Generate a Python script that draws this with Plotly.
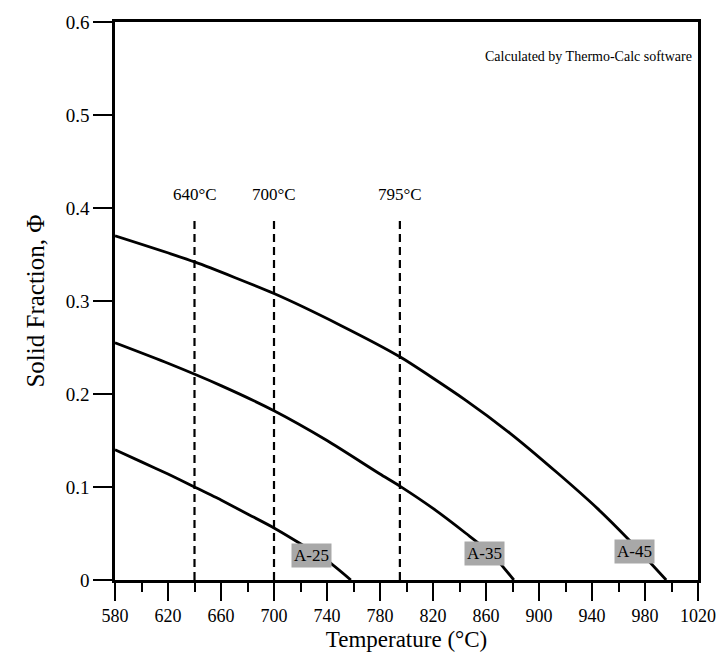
import plotly.graph_objects as go

# ---- data ----
T_A25 = [580, 600, 620, 640, 660, 680, 700, 720, 740, 758]
PHI_A25 = [0.140, 0.127, 0.114, 0.100, 0.086, 0.071, 0.056, 0.039, 0.021, 0.0]

T_A35 = [580, 620, 660, 700, 740, 780, 795, 820, 845, 865, 881]
PHI_A35 = [0.255, 0.233, 0.209, 0.182, 0.150, 0.114, 0.101, 0.077, 0.050, 0.027, 0.0]

T_A45 = [580, 640, 700, 750, 795, 844, 878, 914, 944, 968, 996]
PHI_A45 = [0.370, 0.342, 0.308, 0.274, 0.240, 0.194, 0.158, 0.115, 0.077, 0.043, 0.0]

curve_names = ["A-25", "A-35", "A-45"]
label_T = [728, 859, 972]
label_phi = [0.026, 0.029, 0.031]

vline_T = [640, 700, 795]
vline_labels = ["640°C", "700°C", "795°C"]
vline_top = 0.39
vline_label_phi = 0.415

x_ticks = list(range(580, 1021, 40))
y_ticks = [0, 0.1, 0.2, 0.3, 0.4, 0.5, 0.6]
y_ticklabels = ["0", "0.1", "0.2", "0.3", "0.4", "0.5", "0.6"]

FONT = "Liberation Serif"

fig = go.Figure()

for T, P in [(T_A25, PHI_A25), (T_A35, PHI_A35), (T_A45, PHI_A45)]:
    fig.add_trace(go.Scatter(x=T, y=P, mode="lines",
                             line=dict(color="black", width=2.8, shape="spline", smoothing=0.6),
                             showlegend=False, hoverinfo="skip"))

for t in vline_T:
    fig.add_trace(go.Scatter(x=[t, t], y=[0, vline_top], mode="lines",
                             line=dict(color="black", width=2.2, dash="8px,5px"),
                             showlegend=False, hoverinfo="skip"))

for t, lab in zip(vline_T, vline_labels):
    fig.add_annotation(x=t, y=vline_label_phi, text=lab, showarrow=False,
                       font=dict(family=FONT, size=17, color="black"))

for t, p, name in zip(label_T, label_phi, curve_names):
    fig.add_annotation(x=t, y=p, text=name, showarrow=False,
                       bgcolor="#a8a8a8", borderpad=2,
                       font=dict(family=FONT, size=17, color="black"))

fig.add_annotation(xref="paper", yref="paper", x=0.993, y=0.955, xanchor="right",
                   text="Calculated by Thermo-Calc software", showarrow=False,
                   font=dict(family=FONT, size=14, color="black"))

fig.update_layout(
    width=728, height=669,
    margin=dict(l=115, r=26, t=22, b=89),
    paper_bgcolor="white", plot_bgcolor="white",
    font=dict(family=FONT, color="black"),
    xaxis=dict(range=[580, 1020], tickvals=x_ticks, showgrid=False, zeroline=False,
               showline=True, linewidth=2.5, linecolor="black", mirror=True,
               ticks="outside", ticklen=18, tickwidth=2, tickcolor="black",
               minor=dict(dtick=20, ticks="outside", ticklen=9, tickwidth=2, tickcolor="black"),
               tickfont=dict(family=FONT, size=18),
               title=dict(text="Temperature (°C)", font=dict(family=FONT, size=23), standoff=6)),
    yaxis=dict(range=[0, 0.6], tickvals=y_ticks, ticktext=y_ticklabels, showgrid=False, zeroline=False,
               showline=True, linewidth=2.5, linecolor="black", mirror=True,
               ticks="outside", ticklen=19, tickwidth=2, tickcolor="black",
               tickfont=dict(family=FONT, size=19),
               title=dict(text="Solid Fraction, Φ", font=dict(family=FONT, size=25), standoff=14)),
)

fig.write_html("out.html")
